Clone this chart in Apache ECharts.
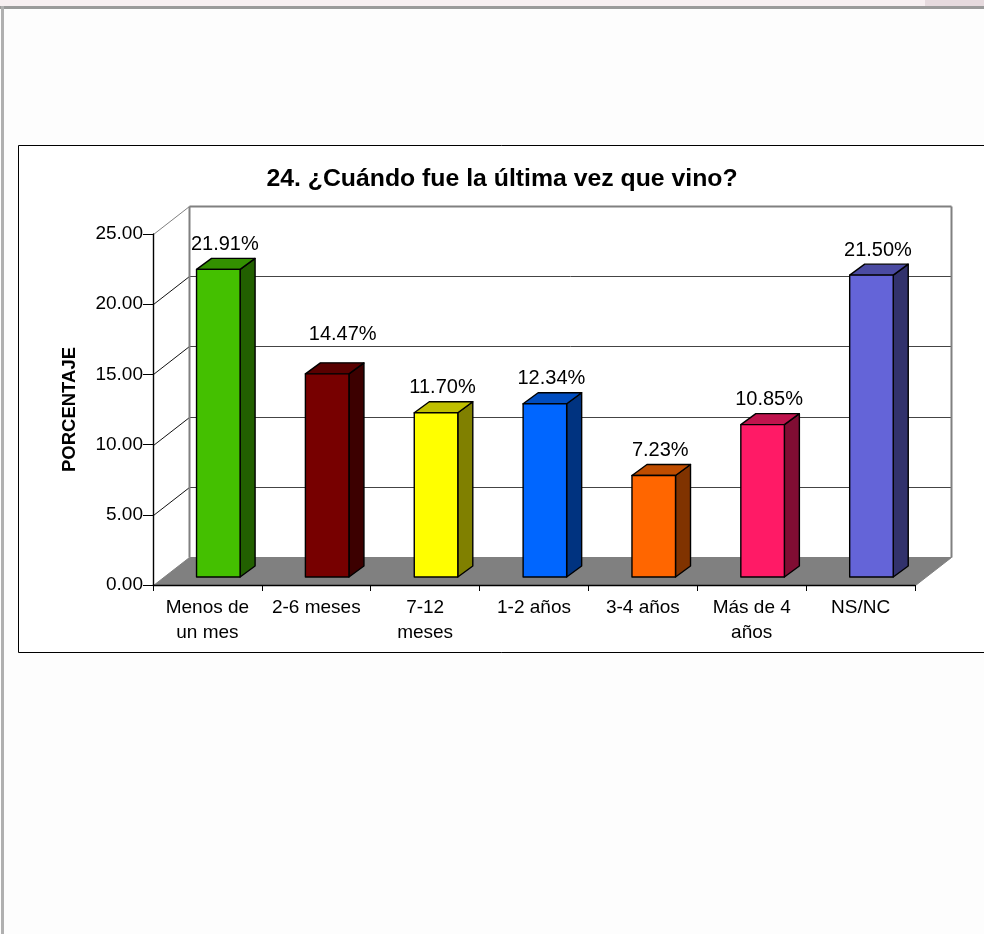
<!DOCTYPE html>
<html><head><meta charset="utf-8">
<style>html,body{margin:0;padding:0;background:#fdfdfd}#c{width:984px;height:934px}</style>
<script src="https://cdn.jsdelivr.net/npm/echarts@6/dist/echarts.min.js"></script>
</head><body><div id="c"></div>
<script>
const chartTitle = '24. ¿Cuándo fue la última vez que vino?';
const yAxisTitle = 'PORCENTAJE';
const categories = ['Menos de\nun mes','2-6 meses','7-12\nmeses','1-2 años','3-4 años','Más de 4\naños','NS/NC'];
const percentages = [21.91,14.47,11.70,12.34,7.23,10.85,21.50];
const barColors = ['#44c000','#770000','#ffff00','#0066ff','#ff6600','#ff1a66','#6464d8'];
const yTicks = [0,5,10,15,20,25];

const FONT = '"Liberation Sans", Arial, sans-serif';
const WALL_DX = 36, WALL_DY = -28;     // depth of the 3D box
const BAR_DX = 15, BAR_DY = -11;       // depth of each bar
const labelNudge = {1:[9,-14]};        // label moved by hand in the original

function shade(hex,f){
  const n=parseInt(hex.slice(1),16);
  const c=[n>>16&255,n>>8&255,n&255].map(v=>Math.round(v*f));
  return `rgb(${c.join(',')})`;
}

function renderWall(params,api){
  const cs=params.coordSys, v=api.value(1);
  const y=Math.round(api.coord([0,v])[1])+0.5;
  const x0=cs.x+0.5, x1=cs.x+cs.width+0.5;
  const kids=[];
  const back=y+WALL_DY;
  if(v===0){
    kids.push({type:'polygon',shape:{points:[[x0,y],[x1,y],[x1+WALL_DX,back],[x0+WALL_DX,back]]},
      style:{fill:'#808080',stroke:'#808080'}});
  } else {
    const top=v===yTicks[yTicks.length-1];
    kids.push({type:'line',shape:{x1:x0,y1:y,x2:x0+WALL_DX,y2:back},
      style:{stroke:top?'#808080':'#111',lineWidth:1}});
    kids.push({type:'line',shape:{x1:x0+WALL_DX,y1:back,x2:x1+WALL_DX,y2:back},
      style:{stroke:top?'#808080':'#444',lineWidth:top?2:1}});
    if(top){
      const floor=Math.round(api.coord([0,0])[1])+0.5+WALL_DY;
      kids.push({type:'line',shape:{x1:x0+WALL_DX,y1:back,x2:x0+WALL_DX,y2:floor},style:{stroke:'#808080',lineWidth:2}});
      kids.push({type:'line',shape:{x1:x1+WALL_DX,y1:back,x2:x1+WALL_DX,y2:floor},style:{stroke:'#808080',lineWidth:2}});
    }
  }
  return {type:'group',children:kids};
}

function renderBar(params,api){
  const i=api.value(0), v=api.value(1);
  const band=api.size([1,0])[0];
  const cx=api.coord([i,0])[0];
  const baseY=api.coord([i,0])[1];
  const w=band*0.4;
  const l=cx-band*0.1, r=l+w;
  const b=baseY-8;
  const t=b-(baseY-api.coord([i,v])[1]);
  const col=barColors[i];
  const st=f=>({fill:f,stroke:'#000',lineWidth:1.4,lineJoin:'round'});
  const n=labelNudge[i]||[0,0];
  return {type:'group',children:[
    {type:'polygon',shape:{points:[[r,b],[r+BAR_DX,b+BAR_DY],[r+BAR_DX,t+BAR_DY],[r,t]]},style:st(shade(col,0.5))},
    {type:'polygon',shape:{points:[[l,t],[r,t],[r+BAR_DX,t+BAR_DY],[l+BAR_DX,t+BAR_DY]]},style:st(shade(col,0.75))},
    {type:'rect',shape:{x:l,y:t,width:w,height:b-t},style:st(col)},
    {type:'text',style:{x:(l+r+BAR_DX)/2-1+n[0],y:t+BAR_DY-4+n[1],text:v.toFixed(2)+'%',
      fill:'#000',font:'20px '+FONT,align:'center',verticalAlign:'bottom'}}
  ]};
}

const chart=echarts.init(document.getElementById('c'),null,{renderer:'canvas'});
chart.setOption({
  animation:false,
  backgroundColor:'transparent',
  textStyle:{fontFamily:FONT},
  title:{text:chartTitle,left:497,textAlign:'center',top:162,
    textStyle:{fontFamily:FONT,fontWeight:'bold',fontSize:24.8,color:'#000'}},
  grid:{left:153,top:234,width:762,height:351,containLabel:false},
  graphic:{elements:[
    {type:'rect',silent:true,z:-20,shape:{x:0,y:0,width:984,height:7},style:{fill:'#f7eff1'}},
    {type:'rect',silent:true,z:-20,shape:{x:925,y:0,width:59,height:7},style:{fill:'#e6dade'}},
    {type:'rect',silent:true,z:-19,shape:{x:0,y:6,width:984,height:3},style:{fill:'#9a9a9a'}},
    {type:'rect',silent:true,z:-19,shape:{x:1,y:6,width:3,height:928},style:{fill:'#b0b0b0'}},
    {type:'rect',silent:true,z:-18,shape:{x:18.5,y:145.5,width:980,height:507},style:{fill:'#fff',stroke:'#000',lineWidth:1}}
  ]},
  xAxis:{type:'category',data:categories,z:5,
    axisLine:{lineStyle:{color:'#000',width:1.4}},
    axisTick:{show:true,length:6,alignWithLabel:false,lineStyle:{color:'#000'}},
    axisLabel:{color:'#000',fontSize:19,fontFamily:FONT,margin:10,lineHeight:25,interval:0,hideOverlap:false},
    splitLine:{show:false}},
  yAxis:{type:'value',min:0,max:25,interval:5,z:5,
    name:yAxisTitle,nameLocation:'middle',nameRotate:90,nameGap:74,
    nameTextStyle:{fontFamily:FONT,fontWeight:'bold',fontSize:18.5,color:'#000'},
    axisLine:{show:true,lineStyle:{color:'#000',width:1.4}},
    axisTick:{show:true,length:10,lineStyle:{color:'#000'}},
    axisLabel:{color:'#000',fontSize:19,fontFamily:FONT,margin:10,formatter:v=>v.toFixed(2)},
    splitLine:{show:false}},
  series:[
    {type:'custom',z:1,silent:true,renderItem:renderWall,encode:{x:0,y:1},
      data:yTicks.map(t=>[0,t])},
    {type:'custom',z:6,silent:true,renderItem:renderBar,encode:{x:0,y:1},
      data:percentages.map((p,i)=>[i,p])}
  ]
});
</script></body></html>
